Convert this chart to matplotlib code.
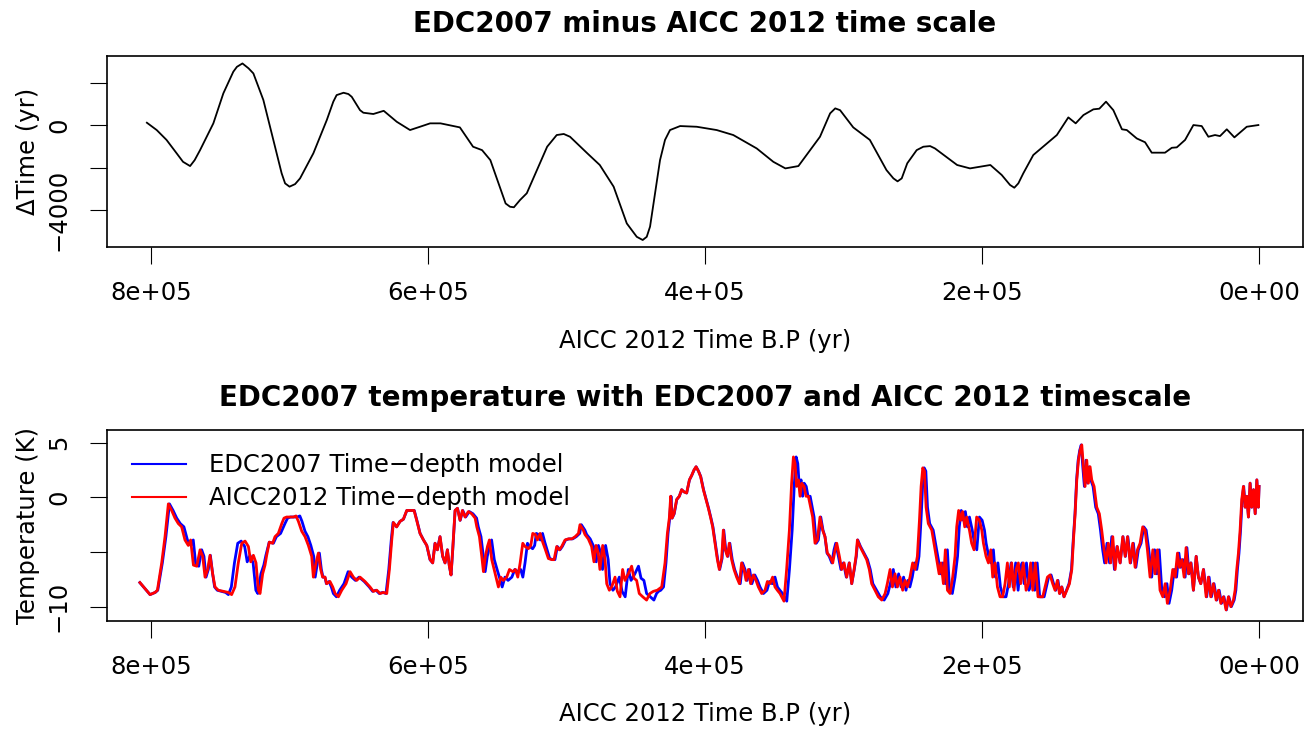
import numpy as np
import matplotlib
matplotlib.use("Agg")
import matplotlib.pyplot as plt

plt.rcParams['font.family'] = ['DejaVu Sans']

# EDC2007 minus AICC2012 age difference (yr) along the AICC2012 age (kyr B.P.)
delta_age_kyr = [803.0, 795.9, 788.8, 781.5, 776.9, 771.8, 768.5, 764.6, 755.0, 747.8,
                 740.6, 738.0, 734.0, 729.6, 726.1, 718.9, 711.7, 705.7, 703.2, 700.0,
                 696.0, 692.4, 682.8, 673.1, 668.4, 666.0, 661.0, 657.5, 655.1, 649.1,
                 646.7, 639.5, 632.0, 622.6, 613.0, 605.8, 598.5, 591.0, 577.0, 567.5,
                 561.0, 555.0, 544.0, 540.8, 538.0, 533.6, 528.7, 514.0, 507.1, 502.0,
                 497.5, 485.0, 476.0, 466.0, 456.5, 449.3, 445.0, 442.1, 439.7, 432.5,
                 428.9, 425.3, 418.0, 406.0, 391.6, 379.6, 362.7, 350.7, 342.0, 332.6,
                 317.0, 309.7, 306.0, 302.5, 293.0, 281.0, 269.0, 264.0, 261.0, 258.0,
                 254.0, 247.2, 242.4, 237.5, 234.0, 218.0, 208.7, 194.0, 185.8, 179.8,
                 176.7, 173.8, 170.2, 163.0, 146.0, 137.7, 132.4, 126.8, 119.6, 115.3,
                 110.5, 105.2, 99.0, 95.5, 88.3, 82.3, 77.5, 67.9, 63.0, 59.4,
                 53.4, 47.4, 41.4, 36.6, 31.8, 28.2, 23.3, 17.8, 8.9, 0.5]
delta_yr = [110, -235, -700, -1330, -1730, -1930, -1650, -1180, 80, 1490,
            2510, 2740, 2900, 2670, 2430, 1180, -700, -2270, -2745, -2900,
            -2780, -2510, -1330, 235, 1100, 1410, 1520, 1460, 1330, 700,
            580, 520, 670, 155, -235, -80, 80, 80, -110, -1020,
            -1180, -1650, -3690, -3845, -3870, -3530, -3210, -1020, -470, -420,
            -550, -1330, -1880, -2900, -4630, -5260, -5410, -5260, -4780, -1650,
            -700, -235, -47, -80, -235, -470, -1100, -1730, -2040, -1930,
            -550, 550, 785, 700, -110, -700, -2120, -2510, -2650, -2510,
            -1800, -1180, -1020, -990, -1100, -1880, -2040, -1880, -2350, -2820,
            -2950, -2745, -2270, -1410, -470, 360, 80, 470, 740, 770,
            1100, 700, -200, -235, -630, -810, -1300, -1300, -1070, -1050,
            -700, 0, -47, -550, -470, -520, -200, -580, -80, 0]

# EDC2007 temperature anomaly (K) against the AICC2012 age (kyr B.P.)
temp_age_kyr = [
    808.0, 800.7, 797.1, 795.4, 792.3, 789.9, 787.5, 785.1, 782.7, 780.3,
    777.9, 775.5, 773.1, 771.4, 769.4, 767.0, 764.6, 762.7, 761.0, 759.1,
    757.4, 755.5, 753.8, 751.4, 747.8, 744.2, 741.8, 739.4, 737.0, 734.5,
    732.1, 729.7, 728.0, 726.1, 724.2, 722.5, 721.3, 719.4, 717.7, 716.5,
    714.6, 712.2, 710.5, 708.1, 705.6, 704.0, 702.1, 699.6, 697.2, 695.3,
    693.6, 691.2, 688.8, 686.4, 684.0, 682.8, 680.9, 679.2, 677.5, 676.1,
    674.4, 673.2, 670.8, 668.8, 667.1, 664.7, 662.3, 659.2,
    656.3, 653.9, 651.5, 649.1, 645.5, 641.9, 639.5, 637.0, 634.6, 632.2,
    629.8, 627.9, 626.2, 625.0, 622.6, 620.2, 617.8, 615.4, 613.0, 610.1,
    608.2, 605.8, 603.3, 600.9, 598.5, 596.6, 594.9, 593.2, 591.3, 589.4,
    587.7, 586.0, 584.6, 583.4, 582.2, 580.5, 578.8, 576.9, 575.2, 573.3,
    570.9, 568.5, 566.0, 564.8, 562.9, 561.2, 560.0, 558.6, 557.1, 555.7,
    554.0, 552.3, 550.9, 549.2, 547.5, 545.6, 543.2, 541.2, 538.8, 536.9,
    535.2, 533.5, 531.6, 529.9, 527.5, 525.8, 524.4, 522.5, 521.0, 519.1,
    517.2, 515.5, 513.1, 510.7, 509.0, 507.1, 505.2, 503.5, 501.1, 498.7,
    496.2, 493.8, 491.4,
    490.3, 487.9, 486.7, 484.3, 481.9, 480.2, 478.7, 477.1, 475.9, 473.9,
    472.2, 471.0, 469.1, 467.4, 465.0, 463.3, 461.4, 459.5, 457.8, 455.4,
    453.0, 451.3, 449.4, 447.5, 445.0, 442.2, 439.8, 437.3, 434.5, 431.3,
    428.9, 427.2, 425.8, 424.8, 423.9, 422.4, 420.5, 418.6, 416.9, 415.2,
    413.3, 411.3, 409.7, 408.0, 406.5, 404.8, 403.2, 401.2, 399.3, 397.6,
    395.9, 394.5, 392.8, 391.1, 389.7, 388.0, 386.8, 385.4, 383.9, 382.5,
    380.8, 379.1, 377.2, 375.2, 373.6, 371.9, 370.4, 368.7, 367.1, 365.1,
    363.2, 361.5, 359.1, 356.7, 355.0, 353.1, 351.2, 349.5, 347.8, 345.9,
    344.2, 343.0, 341.1, 339.1, 337.5, 336.2, 335.0, 333.9, 332.6, 331.4,
    330.2, 328.5, 327.1, 325.4,
    322.3, 320.6, 318.9, 317.0, 315.1, 313.4, 311.7, 309.8, 307.8, 306.1,
    304.9, 303.0, 301.3, 299.6, 297.7, 295.8, 294.1, 292.4, 291.0, 290.0,
    288.1, 285.7, 283.3, 281.4, 279.7, 277.3, 274.9, 272.4, 270.0, 268.4,
    266.4, 264.7, 262.8, 261.1, 259.2, 257.3, 255.6, 253.9, 252.0, 250.1,
    248.4, 246.7, 245.2, 244.0, 242.8, 241.6, 240.4, 238.8, 236.3, 234.7,
    232.7, 231.0, 229.6, 227.9, 226.5, 225.0, 223.1, 221.2, 219.5, 218.3,
    216.9, 215.4, 214.0, 212.5, 211.1, 209.1, 207.5, 205.8, 203.9, 201.9,
    200.2, 199.0, 197.1, 195.4, 193.7, 192.3, 190.6, 188.9, 187.0, 185.1,
    183.4, 181.7, 180.3, 178.6, 176.9, 175.4, 173.8, 172.1, 170.2, 168.2,
    166.5, 164.9, 163.4, 161.5, 159.6,
    156.2, 154.5, 152.8, 150.9, 149.0, 147.3, 145.6, 144.1, 142.5, 140.8,
    138.8, 136.9, 135.2, 134.0, 132.8, 131.6, 130.4, 129.2, 128.0, 126.8,
    125.6, 124.4, 123.2, 122.0, 120.8, 119.1, 117.2, 115.3, 113.6, 111.9,
    110.4, 108.8, 107.1, 105.6, 103.9, 102.3, 100.3, 98.4, 96.7, 95.0,
    93.1, 91.2, 89.5, 87.8, 85.9, 84.0, 82.3, 80.6, 78.7, 76.7,
    75.1, 73.4, 71.5, 69.5, 67.8, 66.2, 64.2, 62.3, 60.6, 58.9,
    57.5, 55.8, 54.1, 52.7, 51.0, 49.3, 47.4, 45.4, 43.8, 42.1,
    40.2, 38.2, 36.6, 34.9, 33.0, 31.0, 29.3, 27.6, 25.7, 23.8,
    22.1, 20.4, 18.5, 17.3, 16.1, 14.9, 13.7, 12.5, 11.3, 10.1,
    8.9, 7.7, 6.5, 5.3, 4.0, 2.8, 1.6, 0.5, 0.0]
temp_k = [
    -7.8, -8.9, -8.7, -8.5, -6.0, -3.6, -0.6, -1.2, -1.9, -2.4,
    -2.7, -3.9, -4.4, -3.9, -6.2, -6.3, -4.8, -5.4, -7.3, -6.6,
    -5.3, -7.0, -8.2, -8.5, -8.6, -8.7, -8.9, -8.2, -6.0, -4.2,
    -4.0, -4.5, -5.9, -5.3, -6.0, -8.5, -8.8, -7.0, -6.2, -5.3,
    -4.1, -4.2, -3.6, -3.3, -2.4, -1.9, -1.8, -1.8, -1.8, -1.7,
    -2.2, -3.1, -3.6, -4.4, -5.4, -7.3, -6.0, -5.1, -6.6, -7.3,
    -7.3, -7.9, -7.7, -8.2, -8.8, -9.1, -8.5, -7.9,
    -6.8, -7.3, -7.6, -7.3, -7.7, -8.2, -8.6, -8.5, -8.8, -8.7,
    -8.8, -6.6, -3.9, -2.3, -2.7, -2.2, -2.0, -1.2, -1.2, -1.2,
    -2.1, -3.3, -3.9, -4.4, -5.7, -6.0, -4.2, -4.8, -3.6, -5.4,
    -6.0, -4.8, -6.3, -7.1, -4.8, -1.2, -1.0, -2.1, -1.2, -1.8,
    -1.3, -1.5, -1.9, -2.7, -3.6, -5.4, -6.8, -5.4, -4.5, -3.9,
    -5.7, -6.6, -7.3, -8.2, -7.3, -7.6, -7.3, -6.6, -6.8, -6.6,
    -7.3, -6.0, -4.2, -4.5, -4.7, -4.4, -3.3, -3.4, -3.9, -3.3,
    -4.1, -4.7, -5.6, -5.7, -5.7, -4.5, -4.8, -4.5, -3.9, -3.8,
    -3.8, -3.6, -3.3,
    -2.5, -3.0, -3.4, -3.8, -4.5, -5.9, -4.4, -5.1, -6.6, -4.4,
    -5.7, -7.9, -8.5, -8.2, -7.3, -8.6, -9.1, -6.6, -7.6, -7.0,
    -6.3, -7.4, -7.6, -8.8, -9.1, -9.4, -8.8, -8.6, -8.5, -8.2,
    -6.0, -3.3, -1.9, 0.1, -1.9, -1.5, -0.2, 0.1, 0.7, 0.5,
    0.4, 1.6, 2.0, 2.5, 2.8, 2.4, 1.9, 0.7, -0.2, -1.0,
    -1.9, -2.7, -4.2, -5.7, -6.6, -5.6, -3.0, -4.8, -5.4, -4.2,
    -5.7, -6.6, -7.3, -7.9, -6.0, -6.6, -7.6, -6.6, -7.9, -7.1,
    -7.6, -8.2, -8.8, -8.5, -7.7, -7.9, -7.3, -8.2, -8.5, -8.8,
    -9.2, -9.5, -6.6, -3.0, 1.3, 3.7, 3.1, 1.0, 1.6, 0.1,
    1.3, 1.0, 0.1, 0.1,
    -1.8, -4.2, -3.9, -1.8, -3.0, -3.6, -5.1, -5.4, -6.0, -4.8,
    -4.2, -5.4, -6.6, -6.0, -7.3, -6.0, -7.9, -6.6, -5.4, -3.9,
    -4.5, -5.1, -5.7, -6.6, -7.9, -8.5, -9.1, -9.4, -8.8, -7.9,
    -6.6, -8.2, -7.0, -8.2, -7.3, -8.5, -7.6, -8.2, -7.3, -6.0,
    -6.6, -5.4, -2.1, 1.0, 2.7, 2.4, -0.9, -2.4, -3.0, -4.2,
    -5.7, -7.0, -6.0, -7.9, -4.8, -8.5, -8.8, -7.3, -5.4, -2.7,
    -1.2, -2.1, -1.3, -2.7, -1.8, -3.0, -4.2, -4.8, -1.8, -2.1,
    -3.0, -4.2, -5.4, -6.0, -4.8, -7.3, -6.0, -8.2, -9.1, -9.1,
    -7.9, -6.0, -8.2, -6.0, -8.5, -6.6, -6.0, -7.9, -6.0, -8.5,
    -7.9, -6.0, -8.5, -6.0, -9.1,
    -9.1, -8.2, -7.3, -7.1, -7.9, -8.5, -7.6, -8.8, -8.2, -9.1,
    -8.5, -7.9, -6.6, -3.9, -1.5, 1.6, 3.4, 4.3, 4.8, 2.8,
    1.0, 3.4, 1.3, 2.8, 1.6, 1.0, -0.9, -1.5, -3.0, -4.8,
    -6.0, -4.2, -6.0, -3.6, -6.6, -4.5, -6.0, -3.6, -5.4, -3.6,
    -6.0, -4.2, -6.4, -4.8, -4.2, -2.7, -3.0, -4.8, -7.3, -4.8,
    -7.0, -4.8, -8.5, -9.1, -7.9, -9.7, -8.5, -6.6, -7.3, -5.1,
    -6.4, -5.7, -7.3, -4.6, -7.0, -6.0, -8.5, -5.4, -7.3, -7.9,
    -6.6, -9.1, -7.3, -9.1, -7.9, -9.4, -8.5, -9.7, -9.1, -10.3,
    -9.1, -10.0, -9.4, -8.5, -6.6, -5.1, -3.0, -0.2, 1.0, -0.9,
    0.1, -1.8, 1.3, -0.9, 0.7, -1.5, 1.6, -0.9, 1.0]

x_ticks = [800000, 600000, 400000, 200000, 0]
x_tick_labels = ['8e+05', '6e+05', '4e+05', '2e+05', '0e+00']

# ages in years; EDC2007 ages follow from the AICC2012 ones plus the difference
age_aicc = np.array(temp_age_kyr) * 1000
d_age = np.array(delta_age_kyr) * 1000
d_yr = np.array(delta_yr, dtype=float)
age_edc = age_aicc + np.interp(age_aicc, d_age[::-1], d_yr[::-1])

fig = plt.figure(figsize=(13.1, 7.3), dpi=100)
ax1 = fig.add_axes([0.0817, 0.6616, 0.9130, 0.2616])
ax2 = fig.add_axes([0.0817, 0.1497, 0.9130, 0.2612])

fs = 17.5
for ax in (ax1, ax2):
    ax.set_xlim(831770, -31770)
    ax.set_xticks(x_ticks)
    ax.set_xticklabels(x_tick_labels)
    ax.tick_params(direction='out', length=12, width=0.8, labelsize=fs)
    ax.tick_params(axis='x', pad=12.5)
    ax.tick_params(axis='y', pad=14, labelrotation=90)
    for sp in ax.spines.values():
        sp.set_linewidth(1.2)
    ax.set_xlabel('AICC 2012 Time B.P (yr)', fontsize=fs)
    ax.xaxis.set_label_coords(0.5, -0.428)
    ax.yaxis.set_label_coords(-0.056, 0.5)

# top: age-scale difference
ax1.plot(d_age, d_yr, color='black', lw=1.3)
ax1.set_ylim(-5741, 3247)
ax1.set_yticks([-4000, -2000, 0, 2000])
ax1.set_yticklabels(['\u22124000', '', '0', ''], va='center')
ax1.set_ylabel('\u0394Time (yr)', fontsize=fs)
ax1.set_title('EDC2007 minus AICC 2012 time scale', fontsize=20,
              fontweight='bold', pad=17)

# bottom: temperature on both age scales
ax2.plot(age_edc, temp_k, color='blue', lw=2.0, label='EDC2007 Time\u2212depth model')
ax2.plot(age_aicc, temp_k, color='red', lw=2.0, label='AICC2012 Time\u2212depth model')
ax2.set_ylim(-11.29, 6.16)
ax2.set_yticks([-10, -5, 0, 5])
ax2.set_yticklabels(['\u221210', '', '0', '5'], va='center')
ax2.set_ylabel('Temperature (K)', fontsize=fs)
ax2.set_title('EDC2007 temperature with EDC2007 and AICC 2012 timescale',
              fontsize=20, fontweight='bold', pad=17)
leg = ax2.legend(loc='upper left', bbox_to_anchor=(0.021, 0.878), frameon=False,
                 fontsize=fs, handlelength=2.2, handletextpad=0.95, labelspacing=0.36,
                 borderaxespad=0, borderpad=0)
for line in leg.get_lines():
    line.set_linewidth(1.5)

fig.savefig('out.png', dpi=100)
